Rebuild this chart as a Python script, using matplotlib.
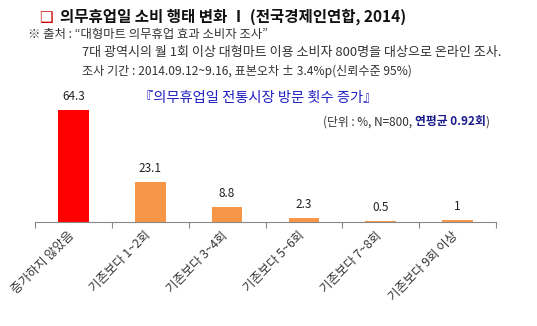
import matplotlib.pyplot as plt

plt.rcParams['font.family'] = ['Noto Sans CJK KR', 'DejaVu Sans']

categories = ['증가하지 않았음', '기존보다 1~2회', '기존보다 3~4회',
              '기존보다 5~6회', '기존보다 7~8회', '기존보다 9회 이상']
values = [64.3, 23.1, 8.8, 2.3, 0.5, 1]
value_labels = ['64.3', '23.1', '8.8', '2.3', '0.5', '1']
colors = ['#ff0000', '#f79646', '#f79646', '#f79646', '#f79646', '#f79646']

fig = plt.figure(figsize=(5.37, 3.26), dpi=100)
ax = fig.add_axes([0.065, 0.319, 0.859, 0.374])

x = range(len(categories))
ax.bar(x, values, width=0.4, color=colors)
for i, v in enumerate(values):
    ax.text(i, v + 4, value_labels[i], ha='center', va='bottom', fontsize=8.5, color='#222222')

ax.set_xlim(-0.5, len(categories) - 0.5)
ax.set_ylim(0, 70)
ax.set_yticks([])
for s in ['top', 'right', 'left']:
    ax.spines[s].set_visible(False)
ax.spines['bottom'].set_color('#888888')
ax.set_xticks([i - 0.5 for i in range(len(categories) + 1)], minor=False)
ax.set_xticklabels([])
ax.tick_params(axis='x', length=4, color='#888888', direction='out')
for i, c in enumerate(categories):
    ax.text(i - 0.08, -4, c, rotation=45, ha='right', va='top', rotation_mode='anchor',
            fontsize=8.9, color='#333333')

# header texts
fig.text(0.072, 0.945, '❑', fontsize=11, color='#cc0000', ha='left', va='center',
         family=['DejaVu Sans'])
fig.text(0.112, 0.948, '의무휴업일 소비 행태 변화 Ⅰ (전국경제인연합, 2014)', fontsize=11.2,
         fontweight='bold', ha='left', va='center', color='#111111')
fig.text(0.052, 0.895, '※ 출처 : “대형마트 의무휴업 효과 소비자 조사”', fontsize=8.9,
         ha='left', va='center', color='#333333')
fig.text(0.152, 0.838, '7대 광역시의 월 1회 이상 대형마트 이용 소비자 800명을 대상으로 온라인 조사.',
         fontsize=9.4, ha='left', va='center', color='#333333')
fig.text(0.152, 0.780, '조사 기간 : 2014.09.12~9.16, 표본오차 ± 3.4%p(신뢰수준 95%)',
         fontsize=8.7, ha='left', va='center', color='#333333')
fig.text(0.258, 0.700, '『의무휴업일 전통시장 방문 횟수 증가』', fontsize=10.3,
         ha='left', va='center', color='#2020c0')

fig.canvas.draw()
r = fig.canvas.get_renderer()
t2 = fig.text(0.905, 0.626, '연평균 0.92회', fontsize=8.5, fontweight='bold',
              ha='right', va='center', color='#1a1a8c')
t3 = fig.text(0.905, 0.626, ')', fontsize=8.5, ha='left', va='center', color='#333333')
bb = t2.get_window_extent(r)
x0 = bb.x0 / fig.bbox.width
fig.text(x0, 0.626, '(단위 : %, N=800, ', fontsize=8.5, ha='right', va='center', color='#333333')

fig.savefig('out.png', dpi=100)
